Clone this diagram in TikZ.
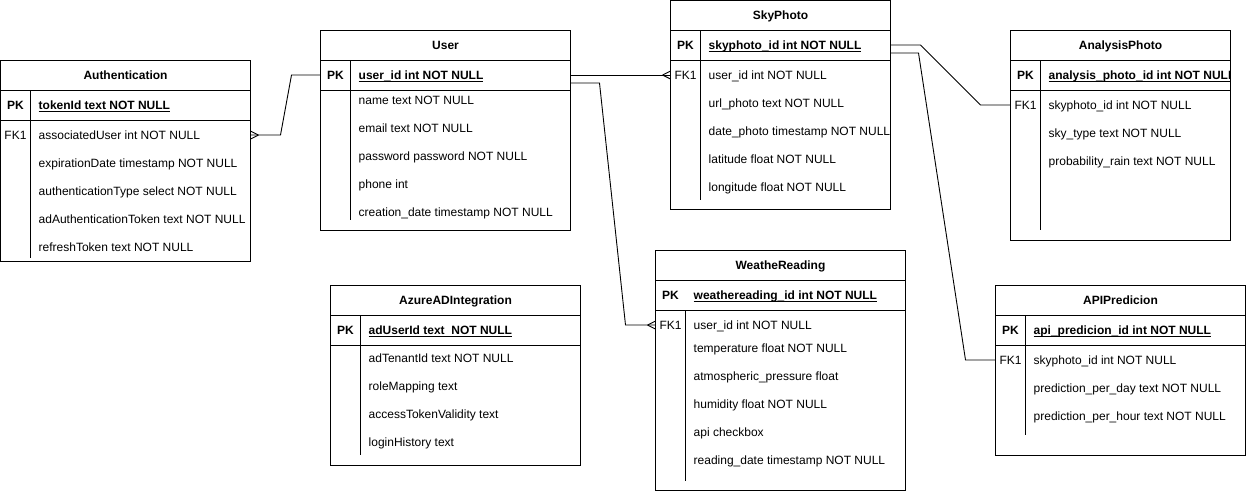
\documentclass[tikz,border=0pt]{standalone}
\usepackage{fontspec}
\setmainfont{Liberation Sans}
\usetikzlibrary{calc}
\newcommand{\pkul}[1]{\underline{\smash{#1}}}
\begin{document}
\begin{tikzpicture}[x=1pt,y=-1pt,
  every node/.style={font=\fontsize{12pt}{14pt}\selectfont, text=black},
  tbl/.style={draw=black, line width=0.9pt, inner sep=0pt, outer sep=0pt, anchor=north west},
  frame/.style={draw=black, line width=0.9pt},
  conn/.style={draw=black, line width=0.9pt},
  ttl/.style={font=\fontsize{12pt}{14pt}\selectfont\bfseries, inner sep=0pt, text height=8.6pt, text depth=0pt},
  keyl/.style={inner sep=0pt, text height=8.6pt, text depth=0pt},
  keyb/.style={font=\fontsize{12pt}{14pt}\selectfont\bfseries, inner sep=0pt, text height=8.6pt, text depth=0pt},
  fld/.style={anchor=west, inner ysep=0pt, inner xsep=0pt, text height=8.6pt, text depth=0pt},
  crowR/.pic={\draw[conn] (8,0) -- (0,-4) (8,0) -- (0,4);},
  crowL/.pic={\draw[conn] (-8,0) -- (0,-4) (-8,0) -- (0,4);}
]
\useasboundingbox (0,0) rectangle (1246,491);

% ---------------- Authentication ----------------
\node[tbl, minimum width=250pt, minimum height=201pt] (auth) at (0.5,60) {};
\draw[frame] (0.5,90) -- (250.5,90) (0.5,120) -- (250.5,120) (30.5,90) -- (30.5,258);
\node[ttl] (authT) at (125.5,75) {Authentication};
\node[keyb] (authPKl) at (15.5,105) {PK};
\node[fld, font=\fontsize{12pt}{14pt}\selectfont\bfseries] (authpk) at (38.5,105) {\pkul{tokenId text NOT NULL}};
\node[keyl] (authFKl) at (15.5,135) {FK1};
\node[fld] (authfk) at (38.5,135) {associatedUser int NOT NULL};
\node[fld] (auth2) at (38.5,163) {expirationDate timestamp NOT NULL};
\node[fld] (auth3) at (38.5,191) {authenticationType select NOT NULL};
\node[fld] (auth4) at (38.5,219) {adAuthenticationToken text NOT NULL};
\node[fld] (auth5) at (38.5,247) {refreshToken text NOT NULL};

% ---------------- User ----------------
\node[tbl, minimum width=250pt, minimum height=200pt] (user) at (320.5,30.5) {};
\draw[frame] (320.5,60) -- (570.5,60) (320.5,90) -- (570.5,90) (350.5,60) -- (350.5,220);
\node[ttl] (userT) at (445.5,45) {User};
\node[keyb] (userPKl) at (335.5,75) {PK};
\node[fld, font=\fontsize{12pt}{14pt}\selectfont\bfseries] (userpk) at (358.5,75) {\pkul{user\_id int NOT NULL}};
\node[fld] (user1) at (358.5,100) {name text NOT NULL};
\node[fld] (user2) at (358.5,128) {email text NOT NULL};
\node[fld] (user3) at (358.5,156) {password password NOT NULL};
\node[fld] (user4) at (358.5,184) {phone int};
\node[fld] (user5) at (358.5,212) {creation\_date timestamp NOT NULL};

% ---------------- SkyPhoto ----------------
\node[tbl, minimum width=220pt, minimum height=209pt] (sky) at (670.5,0.5) {};
\draw[frame] (670.5,30.5) -- (890.5,30.5) (670.5,60.5) -- (890.5,60.5) (700.5,30.5) -- (700.5,200);
\node[ttl] (skyT) at (780.5,15) {SkyPhoto};
\node[keyb] (skyPKl) at (685.5,45) {PK};
\node[fld, font=\fontsize{12pt}{14pt}\selectfont\bfseries] (skypk) at (708.5,45) {\pkul{skyphoto\_id int NOT NULL}};
\node[keyl] (skyFKl) at (685.5,75) {FK1};
\node[fld] (skyfk) at (708.5,75) {user\_id int NOT NULL};
\node[fld] (sky2) at (708.5,103) {url\_photo text NOT NULL};
\node[fld] (sky3) at (708.5,131) {date\_photo timestamp NOT NULL};
\node[fld] (sky4) at (708.5,159) {latitude float NOT NULL};
\node[fld] (sky5) at (708.5,187) {longitude float NOT NULL};

% ---------------- AnalysisPhoto ----------------
\node[tbl, minimum width=220pt, minimum height=210pt] (ap) at (1010.5,30.5) {};
\draw[frame] (1010.5,60.5) -- (1230.5,60.5) (1010.5,90.5) -- (1230.5,90.5) (1040.5,60.5) -- (1040.5,230);
\node[ttl] (apT) at (1120.5,45) {AnalysisPhoto};
\node[keyb] (apPKl) at (1025.5,75) {PK};
\begin{scope}
\clip (1010.5,31) rectangle (1230,90);
\node[fld, font=\fontsize{12pt}{14pt}\selectfont\bfseries] (appk) at (1048.5,75) {\pkul{analysis\_photo\_id int NOT NULL}};
\end{scope}
\node[keyl] (apFKl) at (1025.5,105) {FK1};
\node[fld] (apfk) at (1048.5,105) {skyphoto\_id int NOT NULL};
\node[fld] (ap2) at (1048.5,133) {sky\_type text NOT NULL};
\node[fld] (ap3) at (1048.5,161) {probability\_rain text NOT NULL};

% ---------------- AzureADIntegration ----------------
\node[tbl, minimum width=250pt, minimum height=180pt] (az) at (330.5,285.5) {};
\draw[frame] (330.5,315.5) -- (580.5,315.5) (330.5,345.5) -- (580.5,345.5) (360.5,315.5) -- (360.5,455);
\node[ttl] (azT) at (455.5,300) {AzureADIntegration};
\node[keyb] (azPKl) at (345.5,330) {PK};
\node[fld, font=\fontsize{12pt}{14pt}\selectfont\bfseries] (azpk) at (368.5,330) {\pkul{adUserId text\ \ NOT NULL}};
\node[fld] (az1) at (368.5,358) {adTenantId text NOT NULL};
\node[fld] (az2) at (368.5,386) {roleMapping text};
\node[fld] (az3) at (368.5,414) {accessTokenValidity text};
\node[fld] (az4) at (368.5,442) {loginHistory text};

% ---------------- WeatheReading ----------------
\node[tbl, minimum width=250pt, minimum height=240pt] (wr) at (655.5,250.5) {};
\draw[frame] (655.5,280.5) -- (905.5,280.5) (655.5,310.5) -- (905.5,310.5) (685.5,310.5) -- (685.5,481);
\node[ttl] (wrT) at (780.5,265) {WeatheReading};
\node[keyb] (wrPKl) at (670.5,295) {PK};
\node[fld, font=\fontsize{12pt}{14pt}\selectfont\bfseries] (wrpk) at (693.5,295) {\pkul{weathereading\_id int NOT NULL}};
\node[keyl] (wrFKl) at (670.5,325) {FK1};
\node[fld] (wrfk) at (693.5,325) {user\_id int NOT NULL};
\node[fld] (wr2) at (693.5,348) {temperature float NOT NULL};
\node[fld] (wr3) at (693.5,376) {atmospheric\_pressure float};
\node[fld] (wr4) at (693.5,404) {humidity float NOT NULL};
\node[fld] (wr5) at (693.5,432) {api checkbox};
\node[fld] (wr6) at (693.5,460) {reading\_date timestamp NOT NULL};

% ---------------- APIPredicion ----------------
\node[tbl, minimum width=250pt, minimum height=170pt] (api) at (995.5,285.5) {};
\draw[frame] (995.5,315.5) -- (1245.5,315.5) (995.5,345.5) -- (1245.5,345.5) (1025.5,315.5) -- (1025.5,435);
\node[ttl] (apiT) at (1120.5,300) {APIPredicion};
\node[keyb] (apiPKl) at (1010.5,330) {PK};
\node[fld, font=\fontsize{12pt}{14pt}\selectfont\bfseries] (apipk) at (1033.5,330) {\pkul{api\_predicion\_id int NOT NULL}};
\node[keyl] (apiFKl) at (1010.5,360) {FK1};
\node[fld] (apifk) at (1033.5,360) {skyphoto\_id int NOT NULL};
\node[fld] (api2) at (1033.5,388) {prediction\_per\_day text NOT NULL};
\node[fld] (api3) at (1033.5,416) {prediction\_per\_hour text NOT NULL};

% ---------------- Connectors ----------------
% Authentication (many) -- User
\draw[conn] (auth.east |- authfk) -- ++(30,0) -- ($(user.west |- userpk)+(-29,0)$) -- (user.west |- userpk);
\pic at (auth.east |- authfk) {crowR};
% User -- SkyPhoto (many)
\draw[conn] (user.east |- userpk) -- (sky.west |- skyfk);
\pic at (sky.west |- skyfk) {crowL};
% User -- WeatheReading (many)
\draw[conn] ($(user.east |- userpk)+(0,8)$) -- ++(29,0) -- ($(wr.west |- wrfk)+(-30,0)$) -- (wr.west |- wrfk);
\pic at (wr.west |- wrfk) {crowL};
% SkyPhoto -- AnalysisPhoto
\draw[conn] (sky.east |- skypk) -- ++(30,0) -- ($(ap.west |- apfk)+(-30,0)$) -- (ap.west |- apfk);
% SkyPhoto -- APIPredicion
\draw[conn] ($(sky.east |- skypk)+(0,8)$) -- ++(28,0) -- ($(api.west |- apifk)+(-30,0)$) -- (api.west |- apifk);
\end{tikzpicture}
\end{document}
